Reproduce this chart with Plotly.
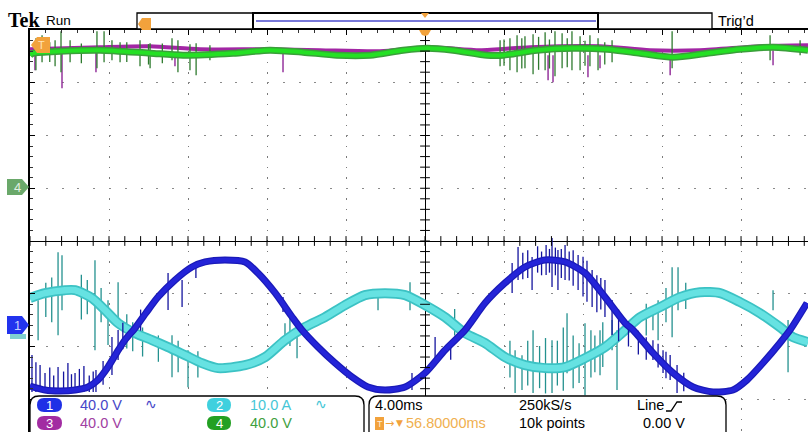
import plotly.graph_objects as go

# ---------------- acquisition / display settings ----------------
W, H = 808, 432
ML, MT = 30, 30                      # graticule starts 30 px from left / top
MS_PER_DIV = 4.0
T_LEFT, T_RIGHT = -20.0, 19.39       # visible time window (ms), trigger at 0
DIV_TOP, DIV_BOTTOM = 4.0, -3.621    # visible vertical window (divisions)

CH1_SCALE, CH1_POS = 40.0, -1.60     # V/div , position in divisions
CH2_SCALE, CH2_POS = 10.0, -1.69     # A/div
CH3_SCALE, CH3_POS = 40.0, 1.02      # V/div
CH4_SCALE, CH4_POS = 40.0, 1.02      # V/div

# ---------------- channel 1 : voltage (V) ----------------
ch1_t = [-20.0, -19.24, -18.48, -17.72, -17.06, -16.56, -16.05, -15.59, -15.19, -14.68,
         -14.13, -13.52, -12.66, -11.80, -11.14, -10.13, -9.11, -8.46, -7.59, -6.73,
         -6.23, -5.42, -4.56, -3.70, -2.89, -2.03, -1.01, 0.0, 1.01, 2.03,
         3.04, 4.05, 5.06, 6.08, 7.09, 8.10, 9.11, 10.13, 10.53, 11.54,
         12.56, 13.57, 14.58, 15.59, 16.30, 17.11, 17.97, 18.48, 19.34]
ch1_v = [-46.0, -49.0, -49.7, -49.0, -46.7, -41.4, -31.5, -20.2, -11.1, -2.0,
         9.4, 21.5, 34.4, 44.3, 48.1, 49.6, 48.1, 39.7, 24.6, 6.4,
         -3.5, -16.4, -28.5, -39.1, -46.7, -49.0, -46.7, -36.1, -18.7, -3.5,
         17.0, 32.2, 44.3, 49.6, 48.1, 39.7, 21.5, 1.8, -3.5, -20.9,
         -36.1, -46.7, -50.5, -49.0, -41.4, -28.5, -13.3, -3.5, 17.0]
# switching glitches: time, upper, lower (V)
ch1_spk_t = [-19.90, -19.70, -19.49, -19.24, -19.00, -18.80, -18.58, -18.30, -18.08, -17.90,
             -17.72, -17.50, -17.27, -17.00, -16.80, -16.66, -16.30, -15.85, -15.54, -15.30,
             -14.40, -13.01, -12.30, -11.60, -7.19, -0.66, 0.51, 1.30, 4.41, 4.71,
             4.95, 5.20, 5.42, 5.70, 5.90, 6.13, 6.30, 6.43, 6.60, 6.73,
             6.90, 7.09, 7.30, 7.50, 7.75, 8.00, 8.20, 8.46, 8.70, 8.90,
             9.11, 9.47, 9.80, 10.30, 10.80, 11.20, 11.54, 11.80, 12.05, 12.20,
             12.41, 12.76, 13.10]
ch1_spk_hi = [-22.4, -28.0, -30.0, -36.1, -32.0, -38.0, -31.5, -35.0, -28.5, -37.0,
              -36.1, -33.0, -30.8, -38.0, -35.0, -33.8, -27.0, -8.8, -3.5, 2.0,
              12.0, 39.7, 34.4, 46.0, 21.5, -36.1, -8.8, -12.0, 47.3, 59.5,
              55.0, 57.0, 51.9, 60.0, 56.0, 61.0, 58.0, 66.3, 59.0, 57.2,
              58.0, 61.0, 56.0, 57.0, 53.4, 52.0, 49.0, 42.0, 38.0, 36.0,
              34.4, 19.3, 12.0, 3.0, -4.0, -9.0, -11.2, -14.0, -18.8, -20.0,
              -22.4, -30.0, -36.0]
ch1_spk_lo = [-50.5, -50.5, -50.5, -50.5, -50.5, -50.5, -50.5, -50.5, -50.5, -50.5,
              -50.5, -50.5, -50.5, -50.5, -50.5, -50.5, -45.0, -37.6, -26.2, -18.0,
              -4.0, 11.7, 14.0, 36.0, 10.2, -49.0, -28.5, -26.0, 24.6, 34.4,
              35.0, 36.0, 26.8, 40.0, 38.0, 38.2, 40.0, 29.1, 38.0, 26.8,
              36.0, 34.4, 34.0, 30.0, 26.8, 22.0, 18.0, 14.0, 10.0, 12.0,
              6.4, -7.3, -12.0, -16.0, -22.0, -26.0, -26.2, -32.0, -36.1, -40.0,
              -41.4, -51.3, -50.0]

# ---------------- channel 2 : current (A) ----------------
ch2_t = [-20.0, -19.24, -18.23, -17.72, -16.86, -16.20, -15.54, -14.68, -13.82, -13.01,
         -12.15, -11.29, -10.48, -9.11, -8.10, -7.09, -6.08, -5.06, -4.05, -3.04,
         -2.03, -1.01, 0.0, 1.01, 2.03, 3.04, 4.05, 5.06, 6.08, 7.09,
         8.10, 9.11, 10.13, 10.89, 11.90, 12.91, 13.92, 14.94, 15.95, 16.96,
         17.97, 18.63, 19.39]
ch2_a = [6.07, 7.01, 7.58, 7.58, 6.07, 3.79, 1.33, -0.57, -1.90, -3.22,
         -4.74, -6.26, -7.20, -6.64, -5.12, -1.90, 0.57, 2.46, 4.74, 6.64,
         7.01, 6.64, 4.74, 2.46, -0.57, -2.46, -5.12, -6.64, -7.20, -7.01,
         -5.31, -3.22, 0.0, 2.46, 4.36, 6.26, 7.20, 7.01, 5.31, 3.22,
         0.57, -1.33, -2.27]
ch2_spk_t = [-19.59, -19.20, -18.90, -18.58, -18.38, -17.40, -17.10, -16.71, -16.40, -16.05,
             -15.54, -15.10, -14.80, -14.30, -13.50, -12.81, -12.50, -12.00, -11.50, -7.09,
             -6.84, -6.48, -2.38, -0.76, 1.50, 4.30, 4.56, 4.91, 5.20, 5.47,
             5.80, 6.10, 6.43, 6.70, 7.00, 7.19, 7.50, 7.80, 8.10, 8.40,
             8.60, 8.86, 9.00, 9.47, 9.72, 11.20, 11.54, 11.80, 12.20, 12.51,
             12.81, 13.20, 17.62, 18.38]
ch2_spk_hi = [5.69, 9.00, 10.00, 14.79, 14.22, 10.50, 9.50, 13.27, 8.00, 5.69,
              9.10, 3.00, 1.50, 0.50, -1.00, -0.95, -2.00, -3.79, -4.00, 1.33,
              2.65, 1.90, 7.01, 9.10, 4.00, -2.00, -3.79, -4.74, -2.00, 0.0,
              -3.00, -1.50, -1.90, -2.00, 0.50, 3.22, -1.00, -2.50, 1.33, 0.00,
              -1.00, 0.0, 1.50, 1.90, 0.0, 5.00, 4.36, 5.69, 8.00, 11.94,
              11.94, 9.00, 7.58, 1.90]
ch2_spk_lo = [-1.90, 2.50, 1.50, -0.95, 3.79, 2.00, 3.00, -3.79, 1.50, -2.84,
              1.90, -3.50, -4.00, -5.00, -6.00, -8.91, -8.00, -10.81, -9.00, -1.33,
              -3.03, -5.31, 3.79, 3.79, -1.00, -9.00, -11.94, -11.37, -10.50, -11.94,
              -11.00, -12.00, -11.94, -10.50, -11.50, -8.15, -11.00, -10.00, -12.32, -9.00,
              -8.00, -8.53, -7.00, -3.79, -11.37, -1.00, 0.0, -1.90, 1.50, -1.33,
              3.79, 4.00, 3.79, -7.96]

# ---------------- channel 3 : DC link (V) ----------------
ch3_t = [-20.0, -16.46, -13.92, -11.39, -7.85, -5.32, -2.28, 0.25, 2.78, 5.32,
         8.86, 11.39, 13.92, 16.96, 19.39]
ch3_v = [104.6, 106.2, 106.9, 104.6, 104.6, 103.9, 103.1, 106.2, 103.9, 106.2,
         106.9, 103.9, 103.9, 106.9, 107.7]
ch3_spk_t = [-19.75, -18.38, -16.66, -12.66, -7.19, 6.23, 6.48, 8.25, 8.86, 12.41, 17.62]
ch3_spk_hi = [103.9, 102.4, 103.9, 102.4, 103.9, 100.1, 100.1, 100.1, 100.1, 100.1, 103.9]
ch3_spk_lo = [88.7, 75.1, 87.2, 91.8, 87.2, 81.1, 79.6, 83.4, 90.2, 84.9, 92.5]

# ---------------- channel 4 : DC link (V) ----------------
ch4_t = [-20.0, -19.85, -18.48, -16.46, -13.92, -12.25, -9.72, -7.85, -6.18, -4.46,
         -2.78, -1.11, 0.10, 1.42, 3.14, 3.95, 5.67, 7.49, 9.22, 10.89,
         12.56, 14.28, 15.95, 17.62, 19.39]
ch4_v = [100.1, 101.6, 103.1, 103.9, 101.6, 100.1, 101.6, 103.9, 102.4, 100.1,
         100.1, 103.9, 105.4, 103.9, 100.1, 100.1, 103.9, 105.4, 104.6, 101.6,
         98.6, 101.6, 104.6, 106.2, 103.9]
ch4_spk_t = [-19.70, -19.39, -18.73, -18.43, -17.97, -16.61, -16.25, -15.85, -15.44, -14.43,
             -13.92, -12.81, -12.51, -11.90, -11.59, -10.89, 3.80, 4.30, 4.66, 5.06,
             5.47, 6.08, 6.58, 6.94, 7.44, 7.85, 8.35, 8.76, 9.47, 12.51,
             17.47, 18.99, -19.00, -17.40, -15.10, -14.00, -13.30, 4.00, 4.90, 5.75,
             6.30, 7.20, 8.10, 9.10]
ch4_spk_hi = [113.0, 115.3, 111.5, 118.3, 111.5, 118.3, 118.3, 111.5, 110.0, 111.5,
              109.2, 113.0, 111.5, 108.4, 109.2, 107.7, 111.5, 113.0, 115.3, 114.5,
              116.0, 117.5, 118.3, 116.8, 118.3, 114.5, 115.3, 113.0, 111.5, 118.3,
              115.3, 111.5, 110.0, 109.0, 110.0, 108.5, 109.0, 112.0, 113.0, 114.0,
              112.0, 113.0, 111.0, 110.0]
ch4_spk_lo = [88.7, 94.8, 91.8, 87.2, 94.8, 90.2, 94.8, 96.3, 94.8, 91.8,
              90.2, 96.3, 87.2, 88.7, 84.9, 96.3, 91.8, 88.7, 87.2, 90.2,
              85.7, 88.7, 84.2, 90.2, 88.7, 88.7, 91.8, 88.7, 94.8, 90.2,
              96.3, 100.1, 95.0, 94.0, 95.0, 93.0, 94.0, 92.0, 90.0, 89.0,
              90.0, 91.0, 92.0, 93.0]

# ---------------- readouts ----------------
ch_labels = ["40.0 V", "10.0 A", "40.0 V", "40.0 V"]
horiz_scale = "4.00ms"
sample_rate = "250kS/s"
record_len = "10k points"
trig_source = "Line"
trig_level = "0.00 V"
trig_delay = "56.80000ms"

C1, C2, C3, C4 = "#2424d8", "#66e2e2", "#a226a4", "#24e024"
ORANGE = "#f2a23c"


def to_div(vals, scale, pos):
    return [v / scale + pos for v in vals]


def spikes(t, hi, lo, scale, pos):
    xs, ys = [], []
    for a, b, c in zip(t, hi, lo):
        xs += [a, a, None]
        ys += [c / scale + pos, b / scale + pos, None]
    return xs, ys


fig = go.Figure()


def add_line(x, y, color, width):
    fig.add_trace(go.Scatter(x=x, y=y, mode="lines", hoverinfo="skip",
                             line=dict(color=color, width=width, shape="spline", smoothing=0.7)))


def add_spikes(x, y, color, width):
    fig.add_trace(go.Scatter(x=x, y=y, mode="lines", hoverinfo="skip",
                             line=dict(color=color, width=width)))


# channel 3 (beneath channel 4)
add_spikes(*spikes(ch3_spk_t, ch3_spk_hi, ch3_spk_lo, CH3_SCALE, CH3_POS), "#8e2696", 1.4)
add_line(ch3_t, to_div(ch3_v, CH3_SCALE, CH3_POS), C3, 4)
# channel 4
add_spikes(*spikes(ch4_spk_t, ch4_spk_hi, ch4_spk_lo, CH4_SCALE, CH4_POS), "#2e7a2e", 1.3)
add_line(ch4_t, to_div(ch4_v, CH4_SCALE, CH4_POS), "#3a9f3a", 7)
add_line(ch4_t, to_div(ch4_v, CH4_SCALE, CH4_POS), C4, 4)
# channel 2
add_spikes(*spikes(ch2_spk_t, ch2_spk_hi, ch2_spk_lo, CH2_SCALE, CH2_POS), "#24918f", 1.3)
add_line(ch2_t, to_div(ch2_a, CH2_SCALE, CH2_POS), "#3cc2c4", 10)
add_line(ch2_t, to_div(ch2_a, CH2_SCALE, CH2_POS), C2, 6.5)
# channel 1
add_spikes(*spikes(ch1_spk_t, ch1_spk_hi, ch1_spk_lo, CH1_SCALE, CH1_POS), "#14149e", 1.3)
add_line(ch1_t, to_div(ch1_v, CH1_SCALE, CH1_POS), "#1a1ab8", 7)
add_line(ch1_t, to_div(ch1_v, CH1_SCALE, CH1_POS), C1, 4.5)

# minor tick marks along the centre cross
minor_t = [T_LEFT + i * MS_PER_DIV / 5 for i in range(int((T_RIGHT - T_LEFT) / (MS_PER_DIV / 5)) + 1)]
minor_d = [DIV_BOTTOM + 0.021 + i * 0.2 for i in range(39)]
fig.add_trace(go.Scatter(x=minor_t, y=[0] * len(minor_t), mode="markers", hoverinfo="skip",
                         marker=dict(symbol="line-ns", size=7, color="black",
                                     line=dict(color="black", width=1))))
fig.add_trace(go.Scatter(x=[0] * len(minor_d), y=minor_d, mode="markers", hoverinfo="skip",
                         marker=dict(symbol="line-ew", size=7, color="black",
                                     line=dict(color="black", width=1))))


# ---------------- screen furniture ----------------
def fx(p):
    return (p - ML) / (W - ML)


def fy(p):
    return (H - p) / (H - MT)


def P(x, y):
    return f"{fx(x):.5f},{fy(y):.5f}"


def poly(pts):
    return "M" + " L".join(P(x, y) for x, y in pts) + " Z"


def rrect(x0, y0, x1, y1, r):
    return (f"M{P(x0 + r, y0)} L{P(x1 - r, y0)} Q{P(x1, y0)} {P(x1, y0 + r)} "
            f"L{P(x1, y1 - r)} Q{P(x1, y1)} {P(x1 - r, y1)} L{P(x0 + r, y1)} "
            f"Q{P(x0, y1)} {P(x0, y1 - r)} L{P(x0, y0 + r)} Q{P(x0, y0)} {P(x0 + r, y0)} Z")


shapes = []


def shape(path, fill=None, color=None, width=0):
    shapes.append(dict(type="path", xref="paper", yref="paper", path=path,
                       fillcolor=fill if fill else "rgba(0,0,0,0)",
                       line=dict(color=color if color else "rgba(0,0,0,0)", width=width),
                       layer="above"))


# record view bar
shape(poly([(137, 13), (712, 13), (712, 29), (137, 29)]), "white", "black", 1.3)
shape(poly([(253, 13), (598, 13), (598, 29), (253, 29)]), "white", "black", 2)
shape(f"M{P(256, 21)} L{P(596, 21)}", None, "#4b4bcc", 1.6)
shape(poly([(138, 24), (142, 18), (151, 18), (151, 30), (142, 30)]), ORANGE)
shape(poly([(421, 13), (429, 13), (425, 18)]), ORANGE)
# trigger position marker on the graticule top
shape(poly([(419, 30), (431, 30), (428, 35), (425, 36), (422, 35)]), ORANGE)
# trigger level marker
shape(poly([(31, 45), (37, 37), (50, 37), (50, 53), (37, 53)]), ORANGE)
# channel markers on the left
shape(poly([(7, 179), (22, 179), (29, 187), (22, 195), (7, 195)]), "#6aa86a")
shape(poly([(10, 334), (26, 334), (26, 339), (10, 339)]), "#7fcfd0")
shape(poly([(7, 316), (22, 316), (29, 325), (22, 334), (7, 334)]), "#2233ee")
# readout panels
shape(rrect(30, 396, 364, 450, 9), "white", "black", 1.3)
shape(rrect(369, 396, 726, 450, 9), "white", "black", 1.3)
# channel badges
shape(rrect(37, 398, 62, 412, 7), "#1f30e6")
shape(rrect(207, 398, 231, 412, 7), "#3fd0de")
shape(rrect(37, 416, 62, 430, 7), "#a22ca2")
shape(rrect(207, 416, 231, 430, 7), "#22a022")
# trigger slope glyph and delay icon
shape(f"M{P(666, 411)} L{P(671, 411)} L{P(677, 402)} L{P(682, 402)}", None, "black", 1.3)
shape(poly([(375, 417), (384, 417), (384, 430), (375, 430)]), ORANGE)

anns = []
FONT = "Liberation Sans, Arial, sans-serif"


def text(x, y, s, size=14, color="black", anchor="left", family=FONT):
    anns.append(dict(x=fx(x), y=fy(y), xref="paper", yref="paper", text=s, showarrow=False,
                     xanchor=anchor, yanchor="middle", borderpad=0,
                     font=dict(family=family, size=size, color=color)))


text(7, 20, "<b>Tek</b>", 20, "black", family="Liberation Serif, Times New Roman, serif")
text(45, 20, "Run", 13.5)
text(717, 21, "Trig\u2019d", 14.5)
text(41, 45, "T", 11, "#ffe4b8", "center")
text(17, 187, "4", 13, "#e2f0e2", "center")
text(17, 325, "1", 13, "#c8d0ff", "center")

text(49.5, 405, "1", 13, "white", "center")
text(219, 405, "2", 13, "white", "center")
text(49.5, 423, "3", 13, "white", "center")
text(219, 423, "4", 13, "white", "center")
text(79, 405, ch_labels[0], 14.5, "#4646c8")
text(144, 404, "\u223f", 14, "#4646c8", family="DejaVu Sans")
text(249, 405, ch_labels[1], 14.5, "#45c6d6")
text(314, 404, "\u223f", 14, "#45c6d6", family="DejaVu Sans")
text(79, 423, ch_labels[2], 14.5, "#a040a2")
text(249, 423, ch_labels[3], 14.5, "#3f9f3f")

text(374, 405, horiz_scale, 14.5)
text(518, 405, sample_rate, 14.5)
text(636, 405, trig_source, 14.5)
text(379.5, 423.5, "T", 9, "#fff0d8", "center")
text(384, 423, "\u2192", 11, ORANGE, family="DejaVu Sans")
text(395, 423, "\u25bc", 9, ORANGE, family="DejaVu Sans")
text(405, 423, trig_delay, 14.5, "#f0b050")
text(518, 423, record_len, 14.5)
text(642, 423, trig_level, 14.5)

fig.update_layout(
    width=W, height=H,
    margin=dict(l=ML, r=0, t=MT, b=0, pad=0),
    paper_bgcolor="white", plot_bgcolor="white",
    showlegend=False, hovermode=False,
    shapes=shapes, annotations=anns,
    xaxis=dict(range=[T_LEFT, T_RIGHT], side="top", showticklabels=False,
               showline=True, linecolor="black", linewidth=1.5,
               ticks="inside", ticklen=5, tickcolor="black", dtick=MS_PER_DIV, tick0=0,
               minor=dict(dtick=MS_PER_DIV / 5, ticks="inside", ticklen=3, tickcolor="#333",
                          showgrid=False),
               showgrid=True, gridcolor="#7a7a7a", gridwidth=1, griddash="1.5px,9px",
               zeroline=True, zerolinecolor="black", zerolinewidth=1.2, fixedrange=True),
    yaxis=dict(range=[DIV_BOTTOM, DIV_TOP], showticklabels=False,
               showline=True, linecolor="black", linewidth=1.5,
               ticks="inside", ticklen=5, tickcolor="black", dtick=1, tick0=0,
               minor=dict(dtick=0.2, ticks="inside", ticklen=3, tickcolor="#333",
                          showgrid=False),
               showgrid=True, gridcolor="#8a8a8a", gridwidth=1, griddash="2px,13.8px",
               zeroline=True, zerolinecolor="black", zerolinewidth=1.2, fixedrange=True),
)

fig.write_html("out.html")
